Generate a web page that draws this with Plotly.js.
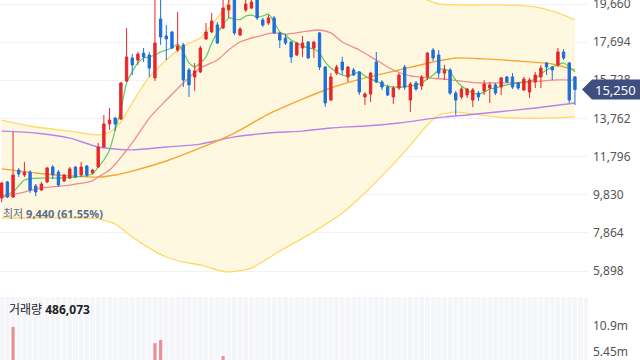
<!DOCTYPE html>
<html><head><meta charset="utf-8">
<script src="https://cdn.plot.ly/plotly-3.0.1.min.js"></script>
<style>html,body{margin:0;padding:0;background:#fff}#chart{width:640px;height:360px}</style>
</head><body><div id="chart"></div>
<script>
// ---- candle data (price in KRW) ----
const openP = [9660,10490,9710,11100,10850,11000,10280,10070,10490,11260,11000,10540,10690,11260,10850,11310,10950,11260,12290,13480,13780,13730,15690,16880,16770,17130,17030,15850,18890,18010,18220,17290,17550,16260,15900,16160,17860,18220,18580,18420,19350,19970,18060,19350,19450,19870,18840,18680,18940,18170,17910,17700,17030,17390,17700,17390,18170,16410,14710,16100,16670,15900,16260,16160,14870,15020,16670,15640,15380,14870,15330,16410,14710,15590,15430,15900,17290,17030,16100,16260,15070,14870,14970,14710,15070,15180,15330,15490,15380,15900,15900,15590,15230,15120,15640,15900,16620,16410,16520,17190,16620,15900];
const highP = [10490,10540,13060,11210,11520,11100,10380,10490,11260,11360,11100,10900,11260,11310,11520,11360,11160,12500,13940,14300,13840,15640,18420,17080,17190,17390,17190,20280,20120,18580,18270,19250,17650,16360,16620,17500,18680,19200,18730,20020,19870,20120,18470,19870,20020,20020,18940,19090,19040,18220,18110,17750,17700,18010,17750,17750,18220,16460,16100,16520,16930,16460,16360,16210,15120,16160,17190,15740,15490,15430,16100,16520,15640,15690,16000,17190,17390,17290,16520,16360,15180,15380,15330,15330,15180,15740,15640,15590,15900,15950,16100,15640,15900,15850,16160,16520,16670,16460,17390,17340,16670,15950];
const lowP = [9440,9660,9660,10740,10740,9920,9760,10020,10430,10640,10230,10490,10640,10690,10740,10740,10900,11210,12240,13170,13110,13680,15640,16000,16520,16670,15900,15690,17550,16770,17340,17190,15380,14870,15180,16100,17800,18170,17600,18380,18940,18060,18010,19250,19400,18840,18470,18580,18110,17390,17550,16620,16980,16930,16830,16880,16260,14350,14660,16000,16000,15640,15950,14970,14450,14610,15590,15230,14920,14510,15230,15230,14090,15180,15230,15740,16720,15850,15740,14970,13940,14760,14820,14350,14660,14970,14560,14970,14970,15590,15280,15230,15180,14820,15330,15330,16000,15740,16410,16770,14560,14450];
const closeP = [10430,9710,10850,10900,11000,10070,9970,10380,11210,10850,10330,10850,11160,10740,11260,10850,11100,12290,13480,13680,13480,15590,16930,16520,17080,16930,16360,17650,17960,17860,17390,17500,15740,15490,16210,17390,18220,18780,17650,19450,19610,18170,18370,19660,19760,18940,18580,18940,18170,17800,17650,16930,17650,17650,16880,17700,16410,14560,15900,16410,16260,16410,16000,15120,15020,16100,15640,15380,14970,15330,16000,15380,15540,15280,15900,17130,16880,16100,16260,15070,14710,15280,15280,15230,14870,15540,15490,15070,15850,15640,15380,15330,15790,15740,16000,16360,16410,16260,17190,16880,14710,15250];
const volume = [1200000,900000,10700000,2100000,1600000,1800000,1100000,800000,1500000,1000000,900000,600000,800000,700000,900000,600000,500000,2600000,3300000,2400000,1300000,3500000,3600000,2000000,1500000,1300000,1800000,7300000,8000000,3200000,2200000,2800000,2900000,2000000,1600000,2300000,2400000,2600000,2200000,4600000,3100000,3400000,1900000,2800000,2500000,2700000,1500000,1300000,1700000,1600000,1100000,1400000,1200000,1300000,1000000,1100000,1800000,2500000,1900000,1200000,1000000,900000,700000,1100000,900000,1300000,1500000,800000,700000,800000,900000,1000000,1200000,700000,800000,2100000,1400000,1200000,800000,1000000,1100000,600000,500000,700000,500000,600000,600000,500000,700000,500000,600000,400000,600000,700000,800000,1000000,700000,600000,1400000,900000,1300000,486073];

// ---- indicator lines (candle index, price) ----
const ma5Idx = [0,2,4,7,10,13,16,17,18,19,20,21,22,23,24,25,26,27,28,29,30,31,32,33,34,35,36,37,38,39,40,41,42,43,44,45,46,47,48,49,50,51,52,53,54,55,56,57,58,59,60,61,62,63,64,65,66,67,68,69,70,71,72,73,74,75,76,77,78,79,80,81,82,83,84,85,86,87,88,89,90,91,92,93,94,95,96,97,98,99,100,101];
const ma5 = [9760,9970,10590,10690,10690,10740,10900,11260,11620,12140,13170,14200,15590,16160,16620,16880,16930,17030,17190,17290,17390,17600,17190,16620,16410,16620,16930,17650,18170,18580,18940,18890,18840,19040,19090,18990,19040,19140,18730,18220,18060,17800,17650,17500,17390,17340,17130,16670,16360,16160,16000,15950,16050,16160,15950,15790,15690,15540,15430,15380,15380,15380,15430,15490,15590,15790,16000,16260,16310,16160,15740,15430,15230,15070,15020,15120,15280,15330,15430,15490,15540,15590,15640,15690,15790,16050,16260,16410,16520,16620,16410,16160];
const ma20Idx = [0,4,7,12,16,17,19,23,26,29,32,35,38,40,42,46,48,50,53,56,58,60,63,66,69,72,75,78,81,84,88,93,97,101];
const ma20 = [9710,9970,10180,10330,10540,10740,11100,12500,13780,14710,15590,16360,16770,17290,17700,18060,18170,18110,18220,18320,18170,17700,17290,16770,16260,15950,15850,15790,15690,15590,15590,15640,15740,15740];
const ma60Idx = [0,6,12,17,20,23,29,35,41,47,53,58,64,70,76,80,85,91,97,101];
const ma60 = [11160,10950,10800,10740,10850,11050,11570,12240,13010,13990,14760,15330,15850,16260,16670,16880,16830,16720,16570,16260];
const ma120Idx = [0,6,12,17,23,29,35,41,47,53,58,64,70,78,82,94,101];
const ma120 = [13110,13010,12750,12290,12140,12290,12440,12810,13010,13110,13270,13370,13530,13840,13940,14300,14560];
const bbUpIdx = [0,6,12,17,19,21,23,26,29,32,35,37,38,41,46,53,60,64,68,72,75,77,82,88,94,98,101];
const bbUp = [13680,13320,13110,12910,13060,13580,14560,15900,16770,17500,17910,18580,18940,20120,21160,22030,21670,21670,21160,20380,19870,19660,19610,19610,19510,19200,18840];
const bbLoIdx = [0,6,12,17,20,23,26,29,32,35,38,40,44,49,54,60,64,68,72,75,77,80,82,87,91,96,101];
const bbLo = [8630,8630,8630,8580,8320,7650,7080,6620,6360,6210,5950,5850,6050,6930,7750,8890,9920,11100,12390,13420,13940,14090,14040,13840,13780,13780,13840];

// ---- axis ticks & labels ----
const priceTicks = [5898,7864,9830,11796,13762,15728,17694,19660];
const volTicks = [5450000,10900000];
const volTickText = ['5.45m','10.9m'];
const lowWord = '최저';
const volWord = '거래량';

const idx = closeP.map((_, i) => i);
const fmt = v => v.toLocaleString('en-US');
const UP = '#e8262b', DOWN = '#1f6fd8';
const FONT = 'Noto Sans, Noto Sans CJK KR, sans-serif';

const lastClose = closeP[closeP.length - 1];
let minI = 0; lowP.forEach((v, i) => { if (v < lowP[minI]) minI = i; });
const minLow = lowP[minI];
const pct = ((lastClose - minLow) / minLow * 100).toFixed(2);

const P_MIN = 4919, P_MAX = 19866;
const V_MIN = 3770000, V_MAX = 16980000;

// volume colors by change vs previous close
const volColors = closeP.map((c, i) => (i === 0 ? c >= openP[0] : c >= closeP[i - 1]) ? 'rgba(232,38,43,0.5)' : 'rgba(31,111,216,0.45)');
const stripeX = idx.concat([idx.length, idx.length + 1]);

const line = (x, y, color, w) => ({type:'scatter', mode:'lines', x, y, xaxis:'x', yaxis:'y', hoverinfo:'skip',
  line:{color, width:w, shape:'spline', smoothing:0.6}});

const data = [
  {type:'bar', x:stripeX, y:stripeX.map(() => V_MAX), xaxis:'x', yaxis:'y2', width:0.82,
   marker:{color:'#f4f6fa', line:{width:0}}, hoverinfo:'skip'},
  {type:'bar', x:idx, y:volume, xaxis:'x', yaxis:'y2', width:0.55,
   marker:{color:volColors, line:{width:0}}, hoverinfo:'skip'},
  line(bbUpIdx, bbUp, '#ffd966', 1.3),
  Object.assign(line(bbLoIdx, bbLo, '#ffd966', 1.3), {fill:'tonexty', fillcolor:'#fff8e1'}),
  line(ma120Idx, ma120, '#b884ea', 1.4),
  line(ma60Idx, ma60, '#f7a530', 1.4),
  line(ma20Idx, ma20, '#f38a8a', 1.3),
  line(ma5Idx, ma5, '#5ccb5c', 1.2),
  {type:'candlestick', x:idx, open:openP, high:highP, low:lowP, close:closeP, xaxis:'x', yaxis:'y3',
   increasing:{line:{color:UP, width:1}, fillcolor:UP},
   decreasing:{line:{color:DOWN, width:1}, fillcolor:DOWN},
   whiskerwidth:0, hoverinfo:'skip'}
];

const layout = {
  width:640, height:360, margin:{l:0, r:52, t:0, b:0, pad:0},
  paper_bgcolor:'#ffffff', plot_bgcolor:'rgba(0,0,0,0)',
  showlegend:false, hovermode:false, dragmode:false,
  barmode:'overlay', boxgap:0.4,
  font:{family:FONT, size:12, color:'#555'},
  xaxis:{range:[-0.3, 103.3], visible:false, showgrid:false, zeroline:false, rangeslider:{visible:false}, fixedrange:true},
  yaxis:{domain:[0.1944, 1], range:[P_MIN, P_MAX], side:'right', tickvals:priceTicks, tickformat:',d',
    showgrid:true, gridcolor:'#f1f2f5', gridwidth:1, zeroline:false, showline:false, ticks:'',
    tickfont:{family:FONT, size:12, color:'#555'}, ticklabelstandoff:4, ticklabeloverflow:'allow', fixedrange:true},
  yaxis3:{overlaying:'y', range:[P_MIN, P_MAX], visible:false, showgrid:false, zeroline:false},
  yaxis2:{domain:[0, 0.175], range:[V_MIN, V_MAX], side:'right', tickvals:volTicks, ticktext:volTickText,
    showgrid:false, zeroline:false, showline:false, ticks:'',
    tickfont:{family:FONT, size:12, color:'#555'}, ticklabelstandoff:4, ticklabeloverflow:'allow', fixedrange:true},
  shapes:[{type:'path', xref:'paper', yref:'y', xsizemode:'pixel', ysizemode:'pixel', xanchor:1, yanchor:lastClose,
    path:'M -6 0 L 4 10 L 60 10 L 60 -10 L 4 -10 Z', fillcolor:'#3e4f7f', line:{width:0}, layer:'above'}],
  annotations:[
    {xref:'paper', x:1, xanchor:'left', xshift:5, yref:'y', y:lastClose, yanchor:'middle',
     text:fmt(lastClose), showarrow:false, font:{family:FONT, size:13, color:'#ffffff'}},
    {xref:'x', x:minI, xanchor:'left', xshift:-1, yref:'y', y:minLow, yanchor:'top', yshift:-2,
     text:lowWord + ' <b>' + fmt(minLow) + ' (' + pct + '%)</b>', showarrow:false,
     font:{family:FONT, size:11, color:'#5d6b8a'}},
    {xref:'paper', x:0, xanchor:'left', xshift:7, yref:'paper', y:(360-309)/360, yanchor:'middle',
     text:volWord + ' <b>' + fmt(volume[volume.length - 1]) + '</b>', showarrow:false,
     font:{family:FONT, size:12, color:'#222'}}
  ]
};

Plotly.newPlot('chart', data, layout, {displayModeBar:false, staticPlot:true});
</script></body></html>
